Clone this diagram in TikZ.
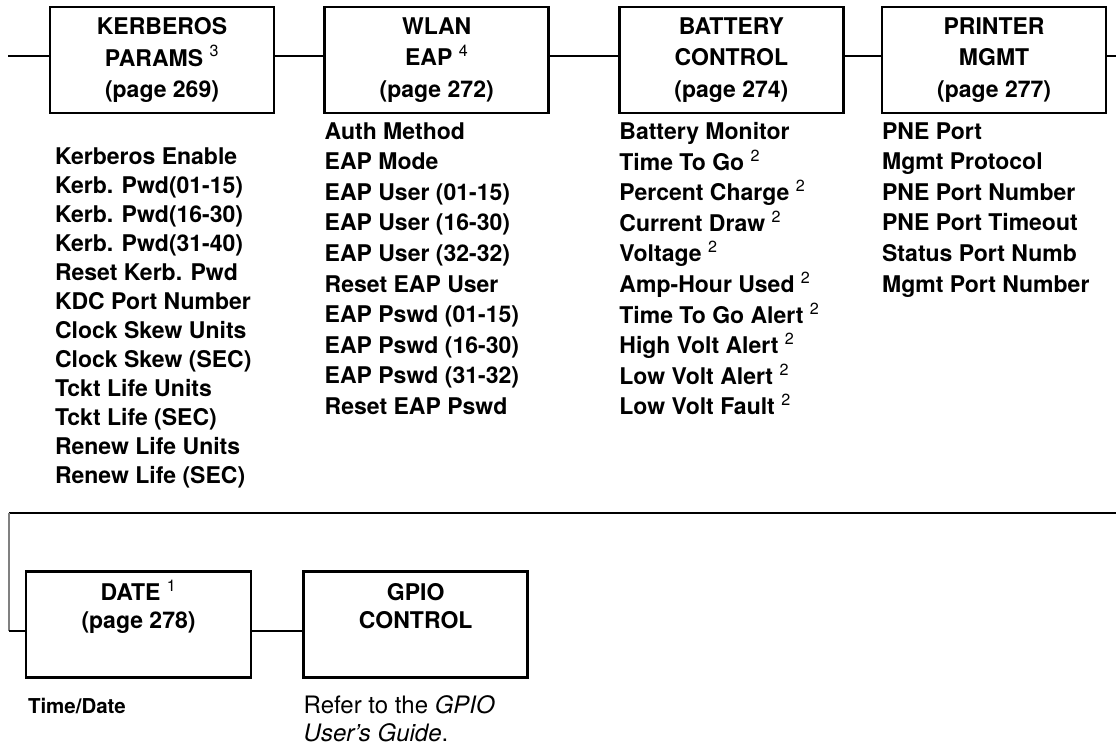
\documentclass[tikz,border=0pt]{standalone}
\usepackage{fontspec}
\setmainfont{TeX Gyre Heros}
\usetikzlibrary{positioning}

\begin{document}
\begin{tikzpicture}[x=1pt, y=-1pt, line width=2.7pt,
    menubox/.style={draw, minimum width=224pt, minimum height=106pt,
        inner sep=0pt, align=center,
        font=\fontsize{23}{31.5}\selectfont\bfseries},
    itemlist/.style={inner sep=0pt, align=left,
        font=\fontsize{23}{30.6}\selectfont\bfseries}]

    \def\fnum#1{{\mdseries\textsuperscript{#1}}}

    \useasboundingbox (0,0) rectangle (1116,747);

    % top row of menus
    \node[menubox] (kerb) at (162,60) {KERBEROS\\PARAMS \fnum{3}\\(page 269)};
    \node[menubox, right=48pt of kerb] (wlan) {WLAN\\EAP \fnum{4}\\(page 272)};
    \node[menubox, right=68pt of wlan] (batt) {BATTERY\\CONTROL\\(page 274)};
    \node[menubox, right=36pt of batt] (prn) {PRINTER\\MGMT\\(page 277)};

    \coordinate (inL) at (8,56);
    \coordinate (outR) at (1116,56);
    \draw (inL) -- ([yshift=4pt]kerb.west);
    \draw ([yshift=4pt]kerb.east) -- ([yshift=4pt]wlan.west);
    \draw ([yshift=4pt]wlan.east) -- ([yshift=4pt]batt.west);
    \draw ([yshift=4pt]batt.east) -- ([yshift=4pt]prn.west);
    \draw ([yshift=4pt]prn.east) -- (outR);

    % items of each menu
    \node[itemlist, below=31.7pt of kerb.south west, anchor=north west,
        xshift=5pt, font=\fontsize{23}{29}\selectfont\bfseries] (kerblist) {%
        Kerberos Enable\\Kerb. Pwd(01-15)\\Kerb. Pwd(16-30)\\Kerb. Pwd(31-40)\\
        Reset Kerb. Pwd\\KDC Port Number\\Clock Skew Units\\Clock Skew (SEC)\\
        Tckt Life Units\\Tckt Life (SEC)\\Renew Life Units\\Renew Life (SEC)};
    \node[itemlist, below=6.7pt of wlan.south west, anchor=north west] (wlanlist) {%
        Auth Method\\EAP Mode\\EAP User (01-15)\\EAP User (16-30)\\
        EAP User (32-32)\\Reset EAP User\\EAP Pswd (01-15)\\EAP Pswd (16-30)\\
        EAP Pswd (31-32)\\Reset EAP Pswd};
    \node[itemlist, below=6.7pt of batt.south west, anchor=north west] (battlist) {%
        Battery Monitor\\Time To Go \fnum{2}\\Percent Charge \fnum{2}\\
        Current Draw \fnum{2}\\Voltage \fnum{2}\\Amp-Hour Used \fnum{2}\\
        Time To Go Alert \fnum{2}\\High Volt Alert \fnum{2}\\
        Low Volt Alert \fnum{2}\\Low Volt Fault \fnum{2}};
    \node[itemlist, below=6.7pt of prn.south west, anchor=north west] (prnlist) {%
        PNE Port\\Mgmt Protocol\\PNE Port Number\\PNE Port Timeout\\
        Status Port Numb\\Mgmt Port Number};

    % second row of menus
    \node[menubox, minimum width=225pt, font=\fontsize{23}{28}\selectfont\bfseries]
        (date) at (138.5,624.5) {DATE \fnum{1}\\(page 278)\\[13.25pt]\mbox{}};
    \node[menubox, font=\fontsize{23}{28}\selectfont\bfseries, right=50pt of date]
        (gpio) {GPIO\\CONTROL\\[9.5pt]\mbox{}};

    \coordinate (wrapR) at (1116,513);
    \coordinate (wrapL) at (9,513);
    \coordinate (wrapD) at (9,631);
    \draw (wrapR) -- (wrapL);
    \draw[line width=1.2pt, gray] (wrapL) -- (wrapD);
    \draw (wrapD) -- ([yshift=-6.5pt]date.west);
    \draw ([yshift=-6.5pt]date.east) -- ([yshift=-6.5pt]gpio.west);

    \node[inner sep=0pt, below=17.6pt of date.south west, anchor=north west,
        xshift=2pt, font=\fontsize{20.5}{24}\selectfont\bfseries] (datelist) {Time/Date};
    \node[inner sep=0pt, below=15pt of gpio.south west, anchor=north west,
        align=left, font=\fontsize{24}{28.5}\selectfont] (gpionote)
        {Refer to the \textit{GPIO}\\\textit{User’s Guide}.};
\end{tikzpicture}
\end{document}
